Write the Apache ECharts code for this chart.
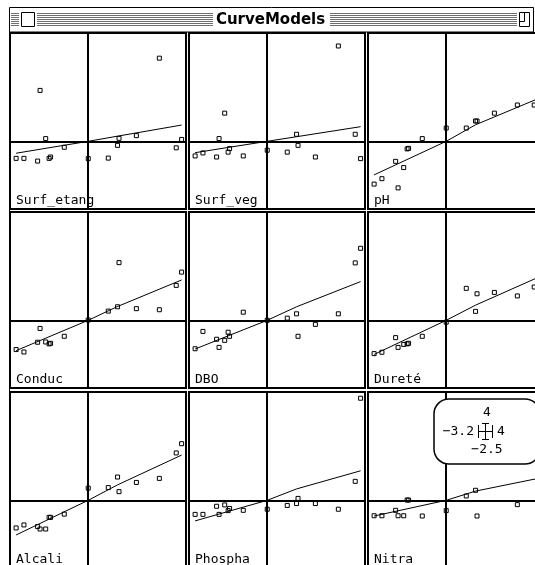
<!DOCTYPE html>
<html>
<head>
<meta charset="utf-8">
<script src="https://cdn.jsdelivr.net/npm/echarts@6/dist/echarts.min.js"></script>
<style>
html,body{margin:0;padding:0;background:#fff;}
#c{width:535px;height:565px;}
</style>
</head>
<body>
<div id="c"></div>
<script>
// ---- data ----
const windowTitle = 'CurveModels';
const xRange = [-3.2, 4];
const yRange = [-2.5, 4];
const panelNames = ['Surf_etang', 'Surf_veg', 'pH', 'Conduc', 'DBO', 'Dureté', 'Alcali', 'Phospha', 'Nitra'];
const obsX = [-2.95, -2.63, -2.07, -1.97, -1.74, -1.6, -1.54, -0.98, 0, 0.82, 1.2, 1.26, 1.97, 2.91, 3.6, 3.82];

const ySurfEtang = [-0.63, -0.63, -0.73, 1.88, 0.10, -0.63, -0.58, -0.22, -0.64, -0.62, -0.15, 0.11, 0.21, 3.07, -0.24, 0.07];
const ySurfVeg   = [-0.54, -0.43, -0.58, 0.10, 1.04, -0.40, -0.27, -0.54, -0.33, -0.40, 0.26, -0.15, -0.58, 3.52, 0.26, -0.64];
const yPH        = [-1.58, -1.38, -0.74, -1.72, -0.97, -0.28, -0.26, 0.10, 0.49, 0.49, 0.75, 0.75, 1.04, 1.34, 1.34, 1.45];
const yConduc    = [-1.08, -1.17, -0.81, -0.30, -0.80, -0.87, -0.85, -0.59, 0.01, 0.34, 0.50, 2.13, 0.43, 0.39, 1.29, 1.78];
const yDBO       = [-1.05, -0.41, -0.70, -1.00, -0.74, -0.44, -0.59, 0.30, 0.00, 0.08, 0.24, -0.59, -0.15, 0.24, 2.12, 2.66];
const yDurete    = [-1.23, -1.18, -0.64, -1.00, -0.89, -0.87, -0.85, -0.59, -0.07, 1.18, 0.33, 0.98, 1.03, 0.90, 1.23, 1.50];
const yAlcali    = [-1.02, -0.91, -0.97, -1.06, -1.06, -0.63, -0.63, -0.51, 0.45, 0.47, 0.86, 0.32, 0.66, 0.81, 1.75, 2.09];
const yPhospha   = [-0.52, -0.52, -0.22, -0.52, -0.17, -0.38, -0.30, -0.37, -0.33, -0.19, -0.12, 0.07, -0.12, -0.33, 0.70, 3.77];
const yNitra     = [-0.57, -0.57, -0.37, -0.57, -0.57, 0.01, 0.01, -0.58, -0.38, 0.16, 0.37, -0.58, 2.00, -0.16, 2.50, 1.00];

const fitX = [-2.95, 0, 1.2, 3.82];
const fitSurfEtang = [-0.44, 0, 0.19, 0.60];
const fitSurfVeg   = [-0.42, 0, 0.17, 0.54];
const fitPH        = [-1.24, 0, 0.61, 1.60];
const fitConduc    = [-1.12, 0, 0.51, 1.49];
const fitDBO       = [-1.06, 0, 0.50, 1.43];
const fitDurete    = [-1.26, 0, 0.56, 1.61];
const fitAlcali    = [-1.28, 0, 0.57, 1.67];
const fitPhospha   = [-0.76, 0, 0.42, 1.09];
const fitNitra     = [-0.58, 0, 0.34, 0.82];

const panelY = [ySurfEtang, ySurfVeg, yPH, yConduc, yDBO, yDurete, yAlcali, yPhospha, yNitra];
const panelFit = [fitSurfEtang, fitSurfVeg, fitPH, fitConduc, fitDBO, fitDurete, fitAlcali, fitPhospha, fitNitra];

// ---- layout ----
const colLeft = [10, 189, 368];
const rowTop = [33, 212, 392];
const SIZE = 176;
const monoFont = '13px "DejaVu Sans Mono", monospace';

const grids = [], xAxes = [], yAxes = [], series = [], graphics = [];

panelNames.forEach((name, i) => {
  const r = Math.floor(i / 3), c = i % 3;
  const left = colLeft[c], top = rowTop[r];
  grids.push({left: left, top: top, width: SIZE, height: SIZE, show: true,
    outerBoundsMode: 'none', containLabel: false,
    borderColor: '#000', borderWidth: 2, backgroundColor: '#fff'});
  xAxes.push({type: 'value', gridIndex: i, min: xRange[0], max: xRange[1],
    axisLine: {show: true, onZero: true, lineStyle: {color: '#000', width: 2}},
    axisTick: {show: false}, axisLabel: {show: false}, splitLine: {show: false}});
  yAxes.push({type: 'value', gridIndex: i, min: yRange[0], max: yRange[1],
    axisLine: {show: true, onZero: true, lineStyle: {color: '#000', width: 2}},
    axisTick: {show: false}, axisLabel: {show: false}, splitLine: {show: false}});
  series.push({type: 'line', xAxisIndex: i, yAxisIndex: i,
    data: fitX.map((x, k) => [x, panelFit[i][k]]),
    showSymbol: false, symbol: 'none', silent: true, z: 2,
    lineStyle: {color: '#000', width: 1}});
  series.push({type: 'scatter', xAxisIndex: i, yAxisIndex: i,
    data: obsX.map((x, k) => [x, panelY[i][k]]),
    symbol: 'rect', symbolSize: 4, silent: true, z: 3,
    itemStyle: {color: 'rgba(255,255,255,0)', borderColor: '#000', borderWidth: 1, opacity: 1}});
  graphics.push({type: 'text', x: left + 6, y: top + SIZE - 8, z: 50,
    style: {text: name, font: monoFont, fill: '#000', align: 'left', verticalAlign: 'middle'}});
});

// ---- window chrome ----
graphics.push({type: 'rect', shape: {x: 9.5, y: 7.5, width: 524, height: 24.5}, z: 40,
  style: {fill: '#fff', stroke: '#000', lineWidth: 1}});
const stripeSegs = [[11, 19], [37, 213], [330, 517]];
for (let yy = 13; yy <= 25; yy += 2) {
  stripeSegs.forEach(s => graphics.push({type: 'line', z: 41,
    shape: {x1: s[0], y1: yy + 0.5, x2: s[1], y2: yy + 0.5}, style: {stroke: '#6e6e6e', lineWidth: 1}}));
}
graphics.push({type: 'rect', shape: {x: 21.5, y: 12.5, width: 13, height: 14}, z: 42,
  style: {fill: '#fff', stroke: '#000', lineWidth: 1}});
graphics.push({type: 'rect', shape: {x: 519.5, y: 12.5, width: 10, height: 14}, z: 42,
  style: {fill: '#fff', stroke: '#000', lineWidth: 1}});
graphics.push({type: 'polyline', shape: {points: [[519.5, 21.5], [524.5, 21.5], [524.5, 12.5]]}, z: 43,
  style: {fill: null, stroke: '#000', lineWidth: 1}});
graphics.push({type: 'text', x: 270.5, y: 20, z: 43,
  style: {text: windowTitle, font: 'bold 15px "DejaVu Sans", sans-serif', fill: '#000', align: 'center', verticalAlign: 'middle'}});
graphics.push({type: 'line', shape: {x1: 9.5, y1: 32, x2: 9.5, y2: 565}, z: 40, style: {stroke: '#000', lineWidth: 1}});

// ---- range box (axis extents) ----
const bx = 434, by = 399;
graphics.push({type: 'rect', shape: {x: bx, y: by, width: 106, height: 65, r: 15}, z: 60,
  style: {fill: '#fff', stroke: '#000', lineWidth: 1.5}});
graphics.push({type: 'text', x: 487, y: 413, z: 61,
  style: {text: String(yRange[1]), font: monoFont, fill: '#000', align: 'center', verticalAlign: 'middle'}});
graphics.push({type: 'text', x: 474, y: 432, z: 61,
  style: {text: '−' + Math.abs(xRange[0]), font: monoFont, fill: '#000', align: 'right', verticalAlign: 'middle'}});
graphics.push({type: 'text', x: 497, y: 432, z: 61,
  style: {text: String(xRange[1]), font: monoFont, fill: '#000', align: 'left', verticalAlign: 'middle'}});
graphics.push({type: 'text', x: 487, y: 450, z: 61,
  style: {text: '−' + Math.abs(yRange[0]), font: monoFont, fill: '#000', align: 'center', verticalAlign: 'middle'}});
const iconSegs = [
  [478, 431.5, 493, 431.5], [478.5, 425, 478.5, 438], [492.5, 425, 492.5, 438],
  [485.5, 423, 485.5, 440], [482, 423.5, 489, 423.5], [482, 439.5, 489, 439.5]
];
iconSegs.forEach(s => graphics.push({type: 'line', z: 61,
  shape: {x1: s[0], y1: s[1], x2: s[2], y2: s[3]}, style: {stroke: '#000', lineWidth: 1}}));

const chart = echarts.init(document.getElementById('c'), null, {renderer: 'canvas'});
chart.setOption({
  animation: false,
  backgroundColor: '#fff',
  grid: grids, xAxis: xAxes, yAxis: yAxes, series: series,
  graphic: {elements: graphics}
});
</script>
</body>
</html>
